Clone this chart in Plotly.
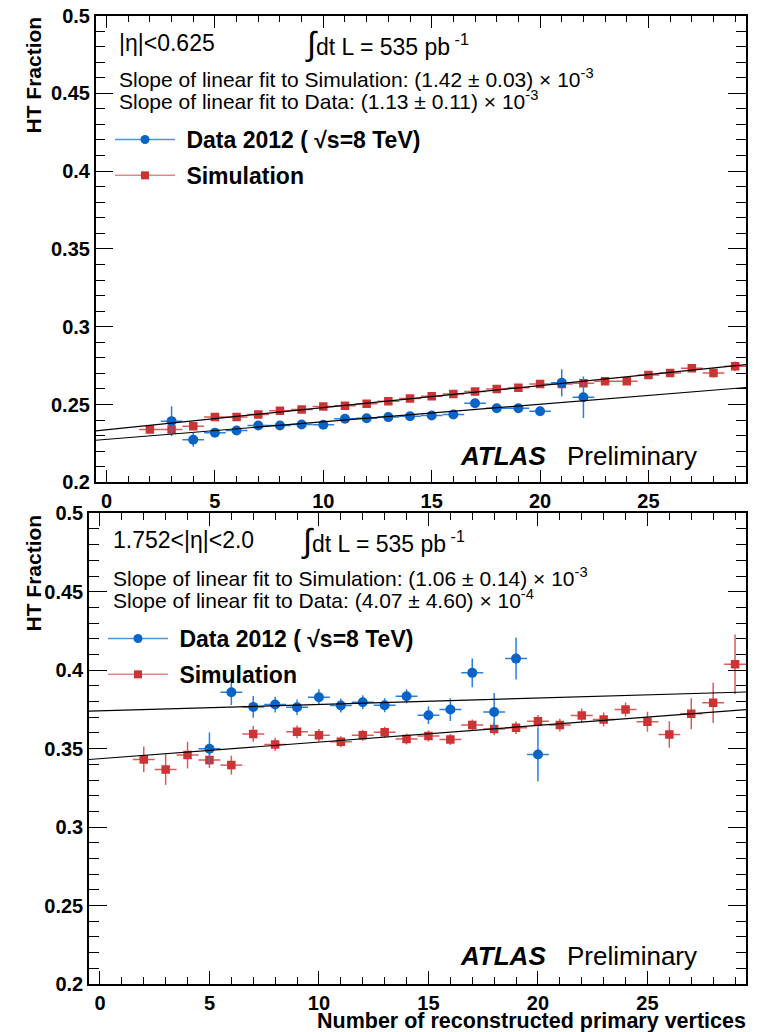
import plotly.graph_objects as go

# ---------------- data ----------------
top_x_data = list(range(3, 23))
top_data = [0.2393, 0.2274, 0.2319, 0.2333, 0.2365, 0.2365, 0.2372, 0.2370, 0.2408, 0.2412,
            0.2419, 0.2424, 0.2429, 0.2436, 0.2508, 0.2476, 0.2476, 0.2457, 0.2639, 0.2547]
top_data_err = [0.0095, 0.0045, 0.0025, 0.0020, 0.0020, 0.0020, 0.0020, 0.0020, 0.0020, 0.0020,
                0.0020, 0.0020, 0.0020, 0.0020, 0.0025, 0.0025, 0.0025, 0.0030, 0.0088, 0.0133]

top_x_sim = list(range(2, 30))
top_sim = [0.2340, 0.2340, 0.2360, 0.2420, 0.2420, 0.2436, 0.2460, 0.2468, 0.2487, 0.2492,
           0.2505, 0.2521, 0.2538, 0.2553, 0.2568, 0.2583, 0.2600, 0.2607, 0.2632, 0.2632,
           0.2637, 0.2650, 0.2650, 0.2690, 0.2703, 0.2733, 0.2703, 0.2746]
top_sim_err = [0.0015] * 26 + [0.0030, 0.0030]

bot_x_data = list(range(5, 21))
bot_data = [0.3499, 0.3860, 0.3766, 0.3781, 0.3764, 0.3828, 0.3775, 0.3796, 0.3777, 0.3834,
            0.3713, 0.3749, 0.3983, 0.3734, 0.4074, 0.3463]
bot_data_err = [0.0104, 0.0082, 0.0069, 0.0050, 0.0050, 0.0050, 0.0045, 0.0045, 0.0045, 0.0045,
                0.0056, 0.0072, 0.0092, 0.0120, 0.0134, 0.0170]

bot_x_sim = list(range(2, 30))
bot_sim = [0.3431, 0.3367, 0.3459, 0.3427, 0.3395, 0.3594, 0.3527, 0.3607, 0.3586, 0.3544,
           0.3586, 0.3605, 0.3562, 0.3580, 0.3559, 0.3650, 0.3626, 0.3633, 0.3675, 0.3650,
           0.3711, 0.3686, 0.3749, 0.3671, 0.3590, 0.3722, 0.3792, 0.4038]
bot_sim_err = [0.0082, 0.0098, 0.0085, 0.0050, 0.0060, 0.0050, 0.0042, 0.0040, 0.0040, 0.0035,
               0.0035, 0.0035, 0.0035, 0.0035, 0.0035, 0.0035, 0.0040, 0.0040, 0.0040, 0.0040,
               0.0045, 0.0045, 0.0045, 0.0064, 0.0085, 0.0099, 0.0128, 0.0190]

bin_half_width = 0.5

# linear fits (slope, intercept)
top_fit_sim = (1.42e-3, 0.2338)
top_fit_data = (1.13e-3, 0.2276)
bot_fit_sim = (1.06e-3, 0.3436)
bot_fit_data = (4.07e-4, 0.3741)

x_range = [-0.5, 29.5]
y_range = [0.2, 0.5]
x_ticks = [0, 5, 10, 15, 20, 25]
y_ticks = [0.2, 0.25, 0.3, 0.35, 0.4, 0.45, 0.5]
y_tick_text = ["0.2", "0.25", "0.3", "0.35", "0.4", "0.45", "0.5"]

# ---------------- style ----------------
W, H = 761, 1032
FONT = "Liberation Sans, Arial, Helvetica, sans-serif"
BLUE = "#0a64c8"
BLUE_ERR = "#2a7fdc"
BLUE_LEG = "#4a94e4"
RED = "#cc3333"
RED_ERR = "#dd5a5a"
RED_LEG = "#e08888"


def px(x):
    return x / W


def py(y):
    return 1 - y / H


fig = go.Figure()


def add_panel(xa, ya, xd, yd, ed, xs, ys, es, fit_s, fit_d, leg):
    fig.add_trace(go.Scatter(
        x=xs, y=ys, mode="markers", xaxis=xa, yaxis=ya, showlegend=False,
        marker=dict(symbol="square", size=8.5, color=RED),
        error_x=dict(type="constant", value=bin_half_width, color=RED_ERR, thickness=1.5, width=0),
        error_y=dict(type="data", array=es, color=RED_ERR, thickness=1.5, width=0)))
    fig.add_trace(go.Scatter(
        x=xd, y=yd, mode="markers", xaxis=xa, yaxis=ya, showlegend=False,
        marker=dict(symbol="circle", size=10, color=BLUE),
        error_x=dict(type="constant", value=bin_half_width, color=BLUE_ERR, thickness=1.5, width=0),
        error_y=dict(type="data", array=ed, color=BLUE_ERR, thickness=1.5, width=0)))
    for slope, icpt in (fit_s, fit_d):
        fx = [x_range[0], x_range[1]]
        fy = [icpt + slope * v for v in fx]
        fig.add_trace(go.Scatter(x=fx, y=fy, mode="lines", xaxis=xa, yaxis=ya,
                                 showlegend=False, hoverinfo="skip",
                                 line=dict(color="black", width=1.2)))
    # legend entries
    fig.add_trace(go.Scatter(x=[None], y=[None], mode="lines+markers", xaxis=xa, yaxis=ya,
                             name="\u00a0Data 2012 ( √s=8 TeV)", legend=leg, legendgroup=leg + "a",
                             marker=dict(symbol="circle", size=9, color=BLUE),
                             line=dict(color=BLUE_LEG, width=1.5)))
    fig.add_trace(go.Scatter(x=[None], y=[None], mode="lines+markers", xaxis=xa, yaxis=ya,
                             name="\u00a0Simulation", legend=leg, legendgroup=leg + "b",
                             marker=dict(symbol="square", size=8, color=RED),
                             line=dict(color=RED_LEG, width=1.5)))


add_panel("x", "y", top_x_data, top_data, top_data_err, top_x_sim, top_sim, top_sim_err,
          top_fit_sim, top_fit_data, "legend")
add_panel("x2", "y2", bot_x_data, bot_data, bot_data_err, bot_x_sim, bot_sim, bot_sim_err,
          bot_fit_sim, bot_fit_data, "legend2")

axis_common = dict(showline=True, linecolor="black", linewidth=1.5, mirror="allticks",
                   ticks="inside", tickcolor="black", tickwidth=1, showgrid=False,
                   zeroline=False, automargin=False,
                   tickfont=dict(family=FONT, size=20, color="black", weight="bold"))
xcommon = dict(axis_common, range=x_range, tickvals=x_ticks, ticklen=13,
               minor=dict(ticks="inside", dtick=1, tick0=0, ticklen=7, tickcolor="black", tickwidth=1))
ycommon = dict(axis_common, range=y_range, tickvals=y_ticks, ticklen=18, ticktext=y_tick_text,
               minor=dict(ticks="inside", dtick=0.01, tick0=0.2, ticklen=10, tickcolor="black", tickwidth=1))

legend_common = dict(xanchor="left", yanchor="top", bgcolor="rgba(0,0,0,0)",
                     font=dict(family=FONT, size=23, color="black", weight="bold"),
                     tracegroupgap=3, traceorder="grouped", itemwidth=60)

fig.update_layout(
    width=W, height=H, margin=dict(l=0, r=0, t=0, b=0, autoexpand=False),
    paper_bgcolor="white", plot_bgcolor="white",
    xaxis=dict(xcommon, domain=[px(95.7), px(746)], anchor="y"),
    yaxis=dict(ycommon, domain=[py(482.3), py(15.5)], anchor="x"),
    xaxis2=dict(xcommon, domain=[px(89), px(746)], anchor="y2"),
    yaxis2=dict(ycommon, domain=[py(984), py(513.3)], anchor="x2"),
    legend=dict(legend_common, x=px(110), y=py(118)),
    legend2=dict(legend_common, x=px(103), y=py(617)),
)

INTEG = "<span style='font-size:33px'>∫</span>dt L = 535 pb<sup> -1</sup>"


def note(text, x, y, size=23, xanchor="left", **kw):
    fig.add_annotation(text=text, x=px(x), y=py(y), xref="paper", yref="paper",
                       xanchor=xanchor, yanchor="middle", showarrow=False,
                       font=dict(family=FONT, size=size, color="black", **kw))


# top panel texts
note("|η|&lt;0.625", 117, 43.5)
note(INTEG, 303, 43.5)
note("Slope of linear fit to Simulation: (1.42 ± 0.03) × 10<sup>-3</sup>", 117, 77.7, size=21)
note("Slope of linear fit to Data: (1.13 ± 0.11) × 10<sup>-3</sup>", 117, 100, size=21)
note("<b><i>ATLAS</i></b>", 458, 456, size=26)
note("Preliminary", 565, 456, size=26)

# bottom panel texts
note("1.752&lt;|η|&lt;2.0", 111, 540)
note(INTEG, 299, 540)
note("Slope of linear fit to Simulation: (1.06 ± 0.14) × 10<sup>-3</sup>", 111, 576.5, size=21)
note("Slope of linear fit to Data: (4.07 ± 4.60) × 10<sup>-4</sup>", 111, 599, size=21)
note("<b><i>ATLAS</i></b>", 458, 956, size=26)
note("Preliminary", 565, 956, size=26)

# axis titles
for ytop in (15, 513):
    fig.add_annotation(text="<b>HT Fraction</b>", x=px(33), y=py(ytop), xref="paper", yref="paper",
                       xanchor="center", yanchor="top", textangle=-90, showarrow=False,
                       font=dict(family=FONT, size=21, color="black"))
fig.add_annotation(text="<b>Number of reconstructed primary vertices</b>", x=px(748), y=py(1021),
                   xref="paper", yref="paper", xanchor="right", yanchor="middle", showarrow=False,
                   font=dict(family=FONT, size=21.5, color="black"))

fig.write_html("out.html")
